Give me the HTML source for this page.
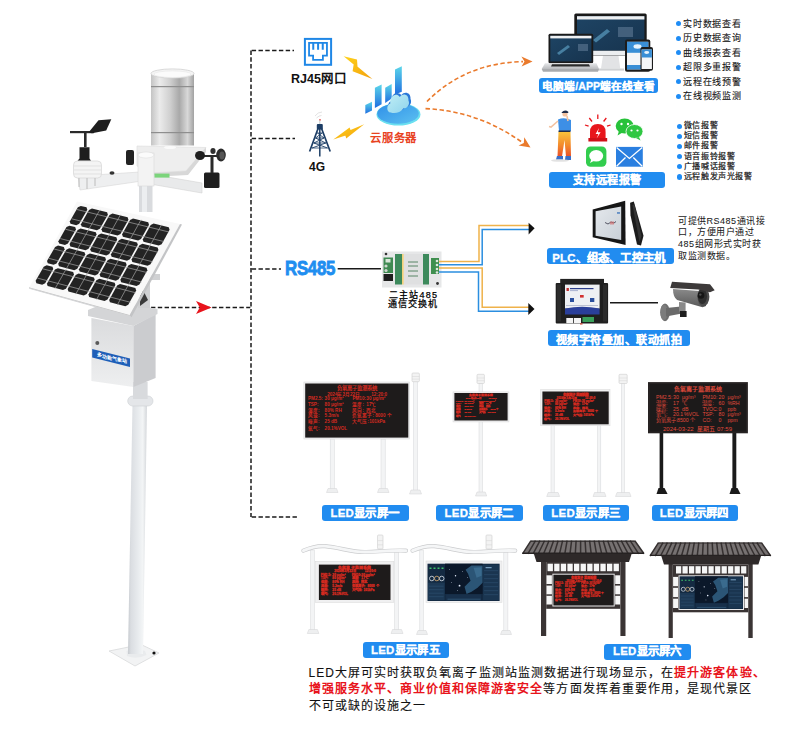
<!DOCTYPE html>
<html lang="zh-CN"><head><meta charset="utf-8">
<style>
html,body{margin:0;padding:0;background:#fff;}
body{width:800px;height:729px;overflow:hidden;position:relative;font-family:"Liberation Sans",sans-serif;}
#g{position:absolute;left:0;top:0;}
.t{position:absolute;white-space:nowrap;}
.lb{position:absolute;box-sizing:border-box;background:#218cf0;color:#fff;-webkit-text-stroke:0.3px #fff;border-radius:3px;font-weight:bold;text-align:center;white-space:nowrap;}
.li{position:absolute;white-space:nowrap;color:#1a1a1a;}
.li i{position:absolute;left:-7.1px;top:50%;margin-top:-2.6px;width:5.2px;height:5.2px;border-radius:50%;background:#1e8cf5;}
</style></head><body>
<svg id="g" width="800" height="729" viewBox="0 0 800 729">
<!-- GRAPHICS -->
<g id="dashes" stroke="#1a1a1a" stroke-width="1.5" fill="none" stroke-dasharray="4.4 2.4">
<path d="M251 50.5V517"/>
<path d="M251.7 50.5H294"/>
<path d="M251.7 138.6H295"/>
<path d="M251.7 269H281"/>
<path d="M151 307.6H250.3"/>
<path d="M251.7 517H298"/>
</g>
<path d="M211.5 307.5L196 301L199.8 307.5L196 314Z" fill="#e8141c"/>

<g id="station">
<defs>
<linearGradient id="gz" x1="0" x2="1" y1="0" y2="0">
<stop offset="0" stop-color="#c4c4c4"/><stop offset="0.2" stop-color="#ebebeb"/><stop offset="0.45" stop-color="#cfcfcf"/><stop offset="0.66" stop-color="#a9a9a9"/><stop offset="0.85" stop-color="#d8d8d8"/><stop offset="1" stop-color="#a2a2a2"/>
</linearGradient>
<linearGradient id="gp" x1="0" x2="1" y1="0" y2="0">
<stop offset="0" stop-color="#c6cacf"/><stop offset="0.15" stop-color="#dadde1"/><stop offset="0.5" stop-color="#e7eaed"/><stop offset="0.78" stop-color="#f3f5f6"/><stop offset="1" stop-color="#d3d6da"/>
</linearGradient>
<linearGradient id="gbf" x1="0" x2="0" y1="0" y2="1">
<stop offset="0" stop-color="#dadbdd"/><stop offset="1" stop-color="#eeeff0"/>
</linearGradient>
</defs>
<!-- pole -->
<path d="M109 651 L141 644.5 L159 653 L135 666 Z" fill="#f2f3f4" stroke="#d8d9db" stroke-width="0.8"/>
<path d="M126.5 651 Q135 647 145 651 L146.5 655 Q136 660 127 656Z" fill="#e9ebed"/>
<path d="M132.5 404 L147 404 L143 654 L128 654 Z" fill="url(#gp)"/>
<circle cx="154" cy="653" r="1.6" fill="#111"/>
<rect x="127.7" y="396" width="25.3" height="10" rx="5" fill="#e4e6e9" stroke="#cdd0d4" stroke-width="0.6"/>
<rect x="133" y="382" width="14.6" height="17" fill="#d8dadd"/>
<!-- box -->
<path d="M91.4 318 L133.4 326 L133.4 387 L91.4 381 Z" fill="url(#gbf)"/>
<path d="M133.4 326 L155.6 314 L155.6 378 L133.4 387 Z" fill="#cbcccf"/>
<path d="M88 310 L112 300 L157.5 309 L157.5 314 L133.4 326 L88 316 Z" fill="#d4d5d7"/>
<path d="M92.2 349 L130 358.5 L130 367 L92.2 357.5 Z" fill="#1f5fb8"/><text transform="matrix(1 0.25 0 1 97 356.3)" font-size="5" font-weight="bold" fill="#fff" font-family="Liberation Sans, sans-serif">多功能气象站</text>
<circle cx="97.3" cy="343" r="2" fill="#5a5a5a"/>
<!-- bracket behind panel -->
<path d="M138 274 L150 274 L150 308 L138 308 Z" fill="#cfd0d2"/>
<path d="M140 284 L148 300 L140 306 Z" fill="#3a3a3a"/>
<path d="M150 274 L160 274 L160 280 L150 280 Z" fill="#d0d1d3"/>
<!-- upper pole -->
<rect x="139" y="180" width="13.5" height="32" fill="#d9dbde"/>
<rect x="142" y="180" width="5" height="32" fill="#eceef0"/>
<!-- rain gauge platform -->
<path d="M137 146 L206 147.5 L186 171 L150 173 L137 166 Z" fill="#eeeeee" stroke="#dcdcdc" stroke-width="0.6"/>
<path d="M150 173 L186 171 L206 147.5 L206 152 L188 175 L150 177 Z" fill="#d8d8d8"/>
<!-- rain gauge -->
<rect x="151" y="73.5" width="43" height="72" fill="url(#gz)"/>
<ellipse cx="172.5" cy="73.5" rx="21.5" ry="4.6" fill="#f4f4f4" stroke="#d0d0d0" stroke-width="0.8"/><ellipse cx="172.5" cy="74.2" rx="18.5" ry="3.3" fill="#fbfbfb" stroke="#e2e2e2" stroke-width="0.5"/>
<rect x="151" y="86" width="43" height="1.2" fill="#8e8e8e"/>
<rect x="151" y="132" width="43" height="1.2" fill="#8e8e8e"/>
<ellipse cx="170" cy="147.5" rx="6" ry="1.6" fill="#fafafa"/>
<!-- arms -->
<path d="M78 176 L140 172 L142 181 L80 190 Z" fill="#eeeff0" stroke="#d6d6d6" stroke-width="0.6"/>
<path d="M150 174 L202 183 L202 193 L150 184 Z" fill="#e9eaeb" stroke="#d3d3d3" stroke-width="0.6"/>
<rect x="138" y="153" width="16" height="33" fill="#f3f3f3" stroke="#dadada" stroke-width="0.6"/>
<ellipse cx="146" cy="155" rx="8" ry="3" fill="#fbfbfb" stroke="#dadada" stroke-width="0.5"/>
<rect x="154.5" y="173.6" width="15" height="4" fill="#7bd47b"/>
<!-- wind vane -->
<path d="M79.5 147.3H89.5V158.5L91 160.7H77.5L79.5 158.5Z" fill="#1e1e1e"/>
<rect x="84" y="131" width="2.6" height="16" fill="#2a2a2a"/>
<rect x="70" y="131" width="24" height="2.2" fill="#2a2a2a"/>
<path d="M88.5 132.6 L98.5 120.2 L111.3 119.3 L106.2 130.6 L92 133.2 Z" fill="#1e1e1e"/>
<!-- radiation shield -->
<rect x="73.5" y="161" width="28" height="17" rx="4" fill="#f4f4f4" stroke="#d5d5d5" stroke-width="0.7"/>
<path d="M74 166H101M74 170H101M74 174H101" stroke="#d9d9d9" stroke-width="0.7"/>
<path d="M79 178V187M87 178V189M95 178V186" stroke="#bcbcbc" stroke-width="1"/>
<!-- middle black sensor -->
<rect x="126" y="150" width="8" height="15" rx="2" fill="#222"/>
<ellipse cx="112" cy="173" rx="2.5" ry="1.8" fill="#333"/>
<!-- anemometer -->
<rect x="204" y="172.5" width="15.5" height="15.5" rx="1.5" fill="#1e1e1e"/>
<rect x="210.5" y="155" width="3" height="18" fill="#2a2a2a"/>
<rect x="200" y="155" width="22" height="2" fill="#2a2a2a"/>
<ellipse cx="200" cy="155.5" rx="5" ry="4.5" fill="#1f1f1f"/>
<ellipse cx="221" cy="155" rx="4.8" ry="6.5" fill="#2b2b2b"/>
<ellipse cx="222" cy="155.5" rx="2.6" ry="4" fill="#555"/>
<ellipse cx="213" cy="151" rx="2.6" ry="3" fill="#2f2f2f"/>
</g>
<g id="panel"><path d="M77.00 201.50 L180.00 224.00 L129.50 315.50 L29.00 287.80 Z" fill="#f8f8f8"/><path d="M29 287.8L129.5 315.5" stroke="#bdbdbd" stroke-width="0.9"/><path d="M180.00 224.00 L182.00 224.60 L131.50 317.30 L129.50 315.50 Z" fill="#c3c4c6"/><path d="M29.00 287.80 L129.50 315.50 L131.50 317.30 L30.00 289.00 Z" fill="#d4d5d7"/><g fill="#232323"><path d="M80.80 205.90 L86.55 207.30 L87.31 209.65 L79.23 223.77 L76.29 225.21 L70.53 223.78 L69.76 221.43 L77.86 207.35 Z" /><path d="M69.43 225.68 L75.20 227.11 L75.96 229.48 L67.88 243.59 L64.93 245.02 L59.16 243.57 L58.39 241.20 L66.49 227.12 Z" /><path d="M58.06 245.47 L63.84 246.93 L64.61 249.30 L56.53 263.41 L53.58 264.84 L47.79 263.35 L47.01 260.98 L55.11 246.90 Z" /><path d="M46.69 265.25 L52.49 266.74 L53.26 269.12 L45.18 283.24 L42.22 284.65 L36.42 283.14 L35.64 280.75 L43.74 266.67 Z" /><path d="M91.92 208.60 L107.11 212.30 L107.87 214.67 L99.83 228.86 L96.89 230.31 L81.66 226.54 L80.90 224.18 L88.98 210.06 Z" /><path d="M80.58 228.45 L95.81 232.22 L96.58 234.60 L88.54 248.79 L85.60 250.23 L70.32 246.38 L69.55 244.01 L77.63 229.89 Z" /><path d="M69.24 248.29 L84.51 252.14 L85.29 254.53 L77.25 268.71 L74.30 270.15 L58.98 266.22 L58.21 263.84 L66.29 249.72 Z" /><path d="M57.90 268.13 L73.21 272.06 L73.99 274.45 L65.95 288.64 L63.00 290.07 L47.64 286.07 L46.86 283.67 L54.94 269.55 Z" /><path d="M112.47 213.61 L127.67 217.31 L128.44 219.68 L120.44 233.95 L117.50 235.41 L102.27 231.64 L101.50 229.27 L109.54 215.07 Z" /><path d="M101.19 233.56 L116.42 237.33 L117.20 239.72 L109.20 253.98 L106.26 255.44 L90.99 251.59 L90.21 249.21 L98.25 235.01 Z" /><path d="M89.91 253.50 L105.18 257.36 L105.96 259.75 L97.96 274.02 L95.02 275.46 L79.70 271.54 L78.92 269.14 L86.96 254.95 Z" /><path d="M78.62 273.45 L93.94 277.38 L94.72 279.79 L86.72 294.05 L83.77 295.49 L68.42 291.48 L67.63 289.08 L75.67 274.89 Z" /><path d="M133.03 218.62 L148.22 222.31 L149.00 224.70 L141.04 239.04 L138.11 240.51 L122.88 236.74 L122.11 234.36 L130.10 220.09 Z" /><path d="M121.80 238.67 L137.04 242.44 L137.82 244.84 L129.86 259.18 L126.92 260.64 L111.65 256.80 L110.87 254.40 L118.87 240.13 Z" /><path d="M110.57 258.72 L125.85 262.58 L126.64 264.98 L118.67 279.32 L115.74 280.77 L100.42 276.85 L99.64 274.45 L107.64 260.18 Z" /><path d="M99.35 278.77 L114.66 282.71 L115.45 285.12 L107.49 299.46 L104.55 300.90 L89.19 296.90 L88.40 294.49 L96.40 280.22 Z" /><path d="M153.59 223.62 L168.78 227.32 L169.57 229.71 L161.64 244.13 L158.72 245.61 L143.49 241.84 L142.71 239.45 L150.67 225.10 Z" /><path d="M142.42 243.78 L157.65 247.56 L158.44 249.96 L150.52 264.37 L147.59 265.85 L132.32 262.00 L131.53 259.60 L139.49 245.25 Z" /><path d="M131.24 263.94 L146.52 267.79 L147.31 270.20 L139.39 284.62 L136.46 286.08 L121.14 282.16 L120.35 279.75 L128.31 265.40 Z" /><path d="M120.07 284.09 L135.39 288.03 L136.18 290.45 L128.26 304.87 L125.32 306.32 L109.97 302.32 L109.17 299.90 L117.13 285.55 Z" /></g><path d="M99.87 209.82L54.96 288.70 M120.43 214.82L75.74 294.12 M140.99 219.82L96.51 299.55 M161.54 224.82L117.29 304.97 M76.93 209.51L168.94 231.99 M71.59 218.81L163.71 241.51 M65.56 229.29L157.82 252.24 M60.21 238.58L152.59 261.76 M54.19 249.06L146.69 272.49 M48.84 258.36L141.46 282.01 M42.81 268.84L135.56 292.74 M37.47 278.14L130.33 302.26" stroke="#a4a4a4" stroke-width="0.7" fill="none"/></g>

<g id="net">
<defs>
<linearGradient id="gbolt" x1="0" x2="1" y1="0" y2="1"><stop offset="0" stop-color="#ffd21a"/><stop offset="1" stop-color="#f3a10e"/></linearGradient>
<linearGradient id="gbar" x1="0" x2="0" y1="0" y2="1"><stop offset="0" stop-color="#5cd6ea"/><stop offset="1" stop-color="#1f6ee0"/></linearGradient>
<linearGradient id="gdisc" x1="0" x2="1" y1="0" y2="1"><stop offset="0" stop-color="#2f8fe8"/><stop offset="1" stop-color="#5cc0f0"/></linearGradient>
<linearGradient id="gcloud" x1="0" x2="1" y1="0" y2="1"><stop offset="0" stop-color="#bfeef5"/><stop offset="1" stop-color="#8fd3ec"/></linearGradient>
</defs>
<!-- RJ45 -->
<rect x="304.9" y="38.9" width="26.2" height="25.9" fill="none" stroke="#1f87e6" stroke-width="2"/>
<path d="M309.05 42.9H326.95V55.6H322.9V59.9H313.1V55.6H309.05Z" fill="none" stroke="#1f87e6" stroke-width="1.8"/>
<path d="M313.25 42V49.7M318.1 42V49.7M322.75 42V49.7" stroke="#1f87e6" stroke-width="2"/>
<!-- bolts -->
<path d="M343.6 56.2L357 59.6L357.6 67.8ZM372.4 79L352.6 71.2L353.8 63.4Z" fill="url(#gbolt)"/>
<path d="M333.3 139.6L349.6 127.6L351.8 133.6ZM364.2 124.3L346.2 138.6L344.6 132.4Z" fill="url(#gbolt)"/>
<!-- tower -->
<g stroke="#1d3e66" fill="none">
<path d="M318.6 127L309.6 151.5M321 127L330.2 151.5" stroke-width="1.7"/>
<path d="M319.8 127V156.5" stroke-width="1.5"/>
<path d="M317 133L322.6 133M315.5 138L324 138M313.8 143L325.8 143M312 148L327.6 148" stroke-width="0.8"/>
<path d="M317.5 133L324 138L313.8 143L327.6 148M322 133L315.5 138L325.8 143L312 148" stroke-width="0.9"/>
</g>
<rect x="316.8" y="124" width="6" height="5.6" rx="1" fill="#1d3e66"/>
<path d="M315 116Q318 112 322 112M316.5 118Q319 115.5 321.5 115.5" stroke="#cfcfcf" stroke-width="0.6" fill="none"/>
<circle cx="320" cy="119.8" r="0.9" fill="#e05050"/>
<path d="M319.8 120.5V124" stroke="#9aa" stroke-width="0.6"/>
<!-- cloud server -->
<ellipse cx="398.5" cy="114.4" rx="22" ry="11.2" fill="#6ae0f0"/>
<ellipse cx="398" cy="113.6" rx="20.8" ry="10.2" fill="url(#gdisc)"/>
<path d="M365.3 105L372 101.8V110.5L365.3 113.8Z" fill="url(#gbar)"/>
<path d="M374.9 87.8L381.6 84.5V104.2L374.9 108Z" fill="url(#gbar)"/>
<path d="M385.2 87.8L391.7 84V98.4L385.2 103Z" fill="url(#gbar)"/>
<path d="M395 69.6L401.8 66.2V91.7L395 94.6Z" fill="url(#gbar)"/>
<g transform="translate(-3.6 -22.5) scale(1.01 1.2)"><path d="M392 111C387 111 386.5 104 391 103C390.5 97 397 94 401 98C404 94.5 410.5 96 410 101C412 105 408.5 108 405 108C402 112 396 112 392 111Z" fill="#2a78d8"/><path d="M390.5 112.5C386 112.5 386 106 390 105C389 99 395.5 95.5 399.5 99.5C402.5 96 408.5 97.5 408 102.5C410 106 406 109.5 403 109C400 113 394 113.5 390.5 112.5Z" fill="url(#gcloud)"/></g>
<!-- orange arcs -->
<g stroke="#ea7a2c" stroke-width="1.6" fill="none" stroke-dasharray="4.4 2.6">
<path d="M427 101.5Q465 63 523 61.6"/>
<path d="M425.5 108.6Q478 111 522 142.2"/>
</g>
<path d="M532.5 61.4L521.4 56.4L524.5 61.5L521.6 66.6Z" fill="#ea7a2c"/>
<path d="M530.5 147.6L524.25 137.2L523.8 143L518.55 145.4Z" fill="#ea7a2c"/>
</g>
<g id="devices">
<defs>
<linearGradient id="gscr" x1="0" x2="1" y1="0" y2="1"><stop offset="0" stop-color="#1e4464"/><stop offset="1" stop-color="#17344f"/></linearGradient>
<linearGradient id="gsil" x1="0" x2="0" y1="0" y2="1"><stop offset="0" stop-color="#e6e7e9"/><stop offset="1" stop-color="#b9bbbe"/></linearGradient>
</defs>
<!-- imac -->
<path d="M603 55.6H618.5L620.2 68.5H601Z" fill="#e2e3e5"/>
<path d="M597 68.5H624V70.6H597Z" fill="#cfd1d3"/>
<rect x="574.3" y="13.4" width="72.4" height="42.2" rx="1.5" fill="#1a1a1a"/>
<rect x="576.6" y="50.5" width="67.8" height="4.8" fill="#eceef0"/>
<rect x="577" y="16.2" width="67.4" height="34.3" fill="url(#gscr)"/>
<rect x="577" y="16.2" width="67.4" height="3.3" fill="#eef0f2"/>
<path d="M593 40L607 29L610 31.5L596 42.5Z" fill="#5a9bbf" opacity="0.7"/>
<rect x="618" y="27" width="15" height="10" fill="#4d6a86" opacity="0.8"/>
<!-- laptop -->
<rect x="548.5" y="33.7" width="44.7" height="29.5" rx="1.5" fill="#1a1a1a"/>
<rect x="550.3" y="35.8" width="41.1" height="25.6" fill="url(#gscr)"/>
<rect x="550.3" y="35.8" width="41.1" height="2.6" fill="#eef0f2"/>
<path d="M557 53L568 45L570 47L559 55Z" fill="#5a9bbf" opacity="0.7"/>
<rect x="578" y="44" width="10" height="7" fill="#4d6a86" opacity="0.8"/>
<path d="M545 63.2H596.5L599 69H541.7Z" fill="url(#gsil)"/>
<path d="M541.7 69H599L598 71.7H543Z" fill="#a9abae"/>
<path d="M552 64.2H589L590 66.5H551Z" fill="#2a2a2a"/>
<!-- tablet -->
<rect x="625" y="39.6" width="25.3" height="32.1" rx="2" fill="#1c1c1c"/>
<rect x="627" y="41.8" width="21.3" height="27.6" fill="#f4f6f8"/>
<rect x="627" y="41.8" width="21.3" height="11" fill="#3a8fd6"/>
<ellipse cx="637.5" cy="46.5" rx="4" ry="2.2" fill="#e8f4fc"/>
<rect x="627" y="65" width="21.3" height="4.4" fill="#3a8fd6"/>
<!-- phone -->
<rect x="640.5" y="47" width="12.5" height="23.8" rx="2" fill="#1c1c1c"/>
<rect x="641.6" y="49.5" width="10.3" height="19.5" fill="#f4f6f8"/>
<rect x="641.6" y="49.5" width="10.3" height="8" fill="#3a8fd6"/>
<ellipse cx="646.7" cy="52.5" rx="2.5" ry="1.4" fill="#e8f4fc"/>
<!-- person -->
<circle cx="565" cy="114" r="2.6" fill="#f3c2a0"/>
<path d="M561.5 112.5Q565 109 568.5 112L568 113H562Z" fill="#1f2d4a"/>
<path d="M558 119.5Q564 117 571 120L571 131L559 131Z" fill="#3d8fe6"/>
<path d="M558 121L551 127L549 126.5" stroke="#f3c2a0" stroke-width="1.6" fill="none"/>
<path d="M568 121L567 116" stroke="#f3c2a0" stroke-width="1.6"/>
<rect x="558.5" y="130.5" width="12" height="1.6" fill="#1f2d4a"/>
<defs><linearGradient id="gpants" x1="0" x2="0" y1="0" y2="1"><stop offset="0" stop-color="#f7c23c"/><stop offset="0.55" stop-color="#f3892c"/><stop offset="1" stop-color="#e9502a"/></linearGradient></defs>
<path d="M558.5 132H570.5L571 156.5H566L564.5 140L562 156.5H557.5Z" fill="url(#gpants)"/>
<path d="M557 156H563V159.5H556Z" fill="#3a6fc8"/>
<path d="M565.5 156H571V160H565Z" fill="#3a6fc8"/>
<ellipse cx="560" cy="160.5" rx="9" ry="1.3" fill="#d6d6d6" opacity="0.7"/>
<!-- alarm -->
<path d="M590 141V132Q590 124 597.8 124Q605.6 124 605.6 132V141Z" fill="#e8161c"/>
<rect x="588.4" y="138" width="18.8" height="3.5" fill="#d01018"/>
<path d="M599 128L595.6 134H598.4L596.6 138.6L600.6 132.2H597.8Z" fill="#fff"/>
<path d="M597.8 114.5V119M589.3 118L592 121.5M606.3 118L603.6 121.5M585 125L588.6 126.2M610.6 125L607 126.2" stroke="#e8161c" stroke-width="1.3"/>
<!-- wechat -->
<ellipse cx="624.7" cy="126" rx="9" ry="7.5" fill="#27c23a"/>
<path d="M619 131L617.5 135.5L622.5 132.5Z" fill="#27c23a"/>
<ellipse cx="634.5" cy="131.5" rx="8.5" ry="7" fill="#2fc742" stroke="#fff" stroke-width="0.8"/>
<path d="M639 137L640.5 140.5L636 138Z" fill="#2fc742"/>
<circle cx="621.5" cy="124" r="1.2" fill="#fff"/><circle cx="628" cy="124" r="1.2" fill="#fff"/>
<circle cx="631.5" cy="130.5" r="1.1" fill="#fff"/><circle cx="637.5" cy="130.5" r="1.1" fill="#fff"/>
<!-- message -->
<rect x="586" y="146.4" width="20.4" height="20.3" rx="4.5" fill="#32cd4e"/>
<ellipse cx="596.2" cy="155.8" rx="7" ry="5.8" fill="#fff"/>
<path d="M591.5 159L590 163L594.5 160.5Z" fill="#fff"/>
<!-- mail -->
<rect x="616" y="146.9" width="26.8" height="19.8" fill="#2a7fe0"/>
<path d="M616.6 147.6L629.4 158.5L642.2 147.6M616.6 166.2L625.5 157.5M642.2 166.2L633.3 157.5" stroke="#fff" stroke-width="1.3" fill="none"/>
</g>

<g id="rs485">
<path d="M337.7 268.7H381" stroke="#1a1a1a" stroke-width="1.4"/>
<!-- converter -->
<rect x="382" y="251.5" width="59.5" height="36" fill="#e6e7e8"/>
<rect x="383.5" y="257.5" width="9.5" height="15.5" fill="#3f8a52"/>
<rect x="385.5" y="259" width="5" height="3.5" fill="#d8e6d8"/>
<circle cx="386" cy="266" r="1.6" fill="#cfd8cf"/><circle cx="386" cy="270.5" r="1.6" fill="#cfd8cf"/>
<rect x="383.5" y="274" width="9.5" height="7" fill="#1e1e1e"/>
<circle cx="386" cy="254" r="1.3" fill="#333"/>
<circle cx="437.5" cy="283.5" r="1.4" fill="#333"/>
<rect x="395" y="254" width="7" height="30.5" fill="#3d8a5c"/>
<rect x="402" y="254" width="1.8" height="30.5" fill="#f3d27a"/>
<rect x="403.8" y="254" width="19.2" height="30.5" fill="#dfe0e1"/>
<rect x="423" y="254" width="6" height="30.5" fill="#3d8a5c"/>
<path d="M408 262h10M408 266h10M408 271h10M408 276h10" stroke="#4a7a5a" stroke-width="0.9"/>
<rect x="431" y="258" width="8" height="16" fill="#3f8f4f"/>
<circle cx="437" cy="261" r="1.3" fill="#e0e8e0"/><circle cx="437" cy="265" r="1.3" fill="#e0e8e0"/><circle cx="437" cy="269" r="1.3" fill="#e0e8e0"/><circle cx="437" cy="272.5" r="1.3" fill="#e0e8e0"/>
<!-- wires -->
<g fill="none" stroke-width="1.5">
<path d="M439 261.4H479V225.4H529" stroke="#efb24a"/>
<path d="M439 264.7H482.2V229.4H529" stroke="#2b8ee0"/>
<path d="M439 268H482.2V307.2H529" stroke="#efb24a"/>
<path d="M439 271.9H478.5V311.2H529" stroke="#2b8ee0"/>
</g>
<path d="M528.6 222.8L534.6 228.2L528.6 234.4Z" fill="#111"/>
<path d="M528.3 303L534.5 309L528.3 315Z" fill="#111"/>
<!-- PLC panel -->
<defs><linearGradient id="gplc" x1="0" x2="1" y1="0" y2="1"><stop offset="0" stop-color="#e4e8ec"/><stop offset="1" stop-color="#c9d0d7"/></linearGradient></defs>
<path d="M592.7 209.6L625.2 200.7L625.6 245L592.7 237.3Z" fill="#161616"/>
<path d="M595.6 211.3L621.2 206.4L621.2 240.1L595.6 235.7Z" fill="url(#gplc)"/>
<path d="M605 222.5l3 1.5l3-2l3 1l2-1.5" stroke="#334" stroke-width="0.8" fill="none"/>
<path d="M610 221.5h4v3h-4z" fill="#d07070" opacity="0.7"/>
<path d="M617 212.2h3v1.5h-3z" fill="#4a7fc0"/>
<path d="M630.1 202.7L633.8 201.5L643.5 235.7L641 245.4L637 244.6L630.5 215.3Z" fill="#1c1c1c"/>
<path d="M632.5 205L634.5 204.5L641.5 236L639.5 242Z" fill="#343434"/>
<!-- video box -->
<rect x="560.2" y="278.9" width="43.8" height="5" fill="#222"/>
<rect x="555.7" y="283" width="52.4" height="40.6" rx="1" fill="#1f1f1f"/>
<rect x="557" y="284.5" width="4" height="37" fill="#2c2c2c"/>
<rect x="603" y="284.5" width="4" height="37" fill="#2c2c2c"/>
<rect x="565" y="284.6" width="34.6" height="24" fill="#eef0f4"/>
<path d="M565 308.5Q582 305 599.6 308.5V314.6H565Z" fill="#2a3f9a"/>
<path d="M566.5 288h2.4v3h-2.4z" fill="#c03030"/>
<path d="M570 288.6h23.5" stroke="#2c3e8c" stroke-width="1.2"/>
<path d="M570 290.6h8" stroke="#7a88b8" stroke-width="0.6"/>
<rect x="580" y="295" width="3.7" height="2.6" fill="#d23030"/>
<rect x="570" y="298" width="4" height="4" fill="#2a4f9e"/>
<rect x="590" y="298" width="4.3" height="4" fill="#2a4f9e"/>
<path d="M566 305.5h32" stroke="#8a92b0" stroke-width="0.5"/>
<rect x="566.3" y="318" width="6.9" height="5.2" fill="#f4f4f4"/>
<rect x="574" y="318" width="7" height="5.2" fill="#f4f4f4"/>
<rect x="582.5" y="317" width="11.5" height="5" fill="#3aa05a"/>
<rect x="580" y="323.3" width="2.5" height="1.2" fill="#d03a2a"/>
<path d="M610 302.8H658" stroke="#1a1a1a" stroke-width="1.4"/>
<!-- camera -->
<defs><linearGradient id="gcam" x1="0" x2="0" y1="0" y2="1"><stop offset="0" stop-color="#8a8a8a"/><stop offset="1" stop-color="#5a5a5a"/></linearGradient></defs>
<ellipse cx="665" cy="312.3" rx="4.7" ry="8.9" fill="#6e6e6e"/>
<ellipse cx="664" cy="312.3" rx="3.6" ry="7.8" fill="#7c7c7c"/>
<path d="M666 308L681 306.5L682 313.5L666 316.5Z" fill="#6a6a6a"/>
<path d="M679 302L685.6 302.5L685.6 311.4L679 311.4Z" fill="#8a8a8a"/>
<rect x="680" y="311" width="6.6" height="6" fill="#1e1e1e"/>
<path d="M673 289L706 291.5L706 306L702.5 307.2L677.2 300.1Q673 297 673 289Z" fill="url(#gcam)"/>
<ellipse cx="703.4" cy="296.8" rx="6" ry="9.4" fill="#4a4a4a"/>
<ellipse cx="702.4" cy="296.3" rx="4.6" ry="7.6" fill="#2e2e2e"/>
<circle cx="701" cy="295.4" r="3.3" fill="#151515"/>
<circle cx="700.3" cy="294.6" r="1.2" fill="#4a4a4a"/>
<path d="M672 281.8L710 284.2L714.7 290.3L710 292.2L698 289.5L670.2 288Z" fill="#3d3a3a"/>
</g>
<g id="leds">
<rect x="330.2" y="439.0" width="4.1" height="52.0" fill="#f3f4f5" stroke="#d6d7d9" stroke-width="0.5"/><path d="M328.0 488.5H336.5L338.0 492.5H326.5Z" fill="#eeeff0" stroke="#d2d3d5" stroke-width="0.5"/>
<rect x="381.0" y="439.0" width="4.2" height="52.0" fill="#f3f4f5" stroke="#d6d7d9" stroke-width="0.5"/><path d="M379.0 488.5H387.5L389.0 492.5H377.5Z" fill="#eeeff0" stroke="#d2d3d5" stroke-width="0.5"/>
<rect x="413.5" y="381.0" width="4.0" height="111.5" fill="#f3f4f5" stroke="#d6d7d9" stroke-width="0.5"/><path d="M411.0 490.0H420.0L421.5 494.0H409.5Z" fill="#eeeff0" stroke="#d2d3d5" stroke-width="0.5"/>
<rect x="412.0" y="373.0" width="7.4" height="8.7" rx="1" fill="#f3f3f3" stroke="#cfcfcf" stroke-width="0.6"/><path d="M412.0 376.5H419.4M412.0 379.1H419.4" stroke="#d5d5d5" stroke-width="0.5"/>
<rect x="303.9" y="382.0" width="105.5" height="57.0" fill="#f0f0f1" stroke="#dcdcdd" stroke-width="0.6"/><rect x="305.2" y="383.5" width="103.1" height="54.1" fill="#1e1b1b"/><g transform="translate(305.20 383.50) scale(1.0010 1.0019)"><g fill="#d42a20" stroke="#d42a20" stroke-width="0" font-size="4.6" font-weight="bold" font-family="Liberation Sans, sans-serif">
<text x="51.5" y="6.8" text-anchor="middle" font-size="5.4">负氧离子监测系统</text>
<text x="22" y="12">2024年3月22日</text><text x="66" y="12">12:20:0</text>
<text x="2.8" y="16.7">PM2.5:</text><text x="19.4" y="16.7">30 μg/m³</text><text x="47.2" y="16.7">PM10:</text><text x="61.1" y="16.7">30 μg/m³</text>
<text x="2.8" y="22.2">TSP:</text><text x="19.4" y="22.2">80 μg/m³</text><text x="47.2" y="22.2">温度:</text><text x="61.1" y="22.2">17℃</text>
<text x="2.8" y="28.2">湿度:</text><text x="19.4" y="28.2">80% RH</text><text x="47.2" y="28.2">风向:</text><text x="61.1" y="28.2">西北</text>
<text x="2.8" y="33.7">风速:</text><text x="19.4" y="33.7">5.3m/s</text><text x="47.2" y="33.7">负氧离子:</text><text x="70" y="33.7">8000 个</text>
<text x="2.8" y="39.8">噪声:</text><text x="19.4" y="39.8">25 dB</text><text x="47.2" y="39.8">大气压:</text><text x="64" y="39.8">101kPa</text>
<text x="2.8" y="46.3">氧气:</text><text x="19.4" y="46.3">20.1%VOL</text>
</g></g>
<rect x="479.0" y="383.5" width="3.6" height="111.0" fill="#f3f4f5" stroke="#d6d7d9" stroke-width="0.5"/><path d="M477.0 492.0H485.2L486.7 496.0H475.5Z" fill="#eeeff0" stroke="#d2d3d5" stroke-width="0.5"/>
<rect x="477.0" y="374.3" width="7.4" height="9.2" rx="1" fill="#f3f3f3" stroke="#cfcfcf" stroke-width="0.6"/><path d="M477.0 378.0H484.4M477.0 380.7H484.4" stroke="#d5d5d5" stroke-width="0.5"/>
<rect x="453.0" y="391.9" width="55.9" height="30.0" fill="#f0f0f1" stroke="#dcdcdd" stroke-width="0.6"/><rect x="454.4" y="393.0" width="53.2" height="27.5" fill="#1e1b1b"/><g transform="translate(454.40 393.00) scale(0.5165 0.5093)"><g fill="#d42a20" stroke="#d42a20" stroke-width="0.4" font-size="4.6" font-weight="bold" font-family="Liberation Sans, sans-serif">
<text x="51.5" y="6.8" text-anchor="middle" font-size="5.4">负氧离子监测系统</text>
<text x="22" y="12">2024年3月22日</text><text x="66" y="12">12:20:0</text>
<text x="2.8" y="16.7">PM2.5:</text><text x="19.4" y="16.7">30 μg/m³</text><text x="47.2" y="16.7">PM10:</text><text x="61.1" y="16.7">30 μg/m³</text>
<text x="2.8" y="22.2">TSP:</text><text x="19.4" y="22.2">80 μg/m³</text><text x="47.2" y="22.2">温度:</text><text x="61.1" y="22.2">17℃</text>
<text x="2.8" y="28.2">湿度:</text><text x="19.4" y="28.2">80% RH</text><text x="47.2" y="28.2">风向:</text><text x="61.1" y="28.2">西北</text>
<text x="2.8" y="33.7">风速:</text><text x="19.4" y="33.7">5.3m/s</text><text x="47.2" y="33.7">负氧离子:</text><text x="70" y="33.7">8000 个</text>
<text x="2.8" y="39.8">噪声:</text><text x="19.4" y="39.8">25 dB</text><text x="47.2" y="39.8">大气压:</text><text x="64" y="39.8">101kPa</text>
<text x="2.8" y="46.3">氧气:</text><text x="19.4" y="46.3">20.1%VOL</text>
</g></g>
<rect x="551.0" y="425.7" width="3.2" height="69.3" fill="#f3f4f5" stroke="#d6d7d9" stroke-width="0.5"/><path d="M548.2 492.5H558.1L559.6 496.5H546.7Z" fill="#eeeff0" stroke="#d2d3d5" stroke-width="0.5"/>
<rect x="597.6" y="425.7" width="3.2" height="69.3" fill="#f3f4f5" stroke="#d6d7d9" stroke-width="0.5"/><path d="M594.5 492.5H604.5L606.0 496.5H593.0Z" fill="#eeeff0" stroke="#d2d3d5" stroke-width="0.5"/>
<rect x="621.3" y="383.5" width="3.1" height="111.5" fill="#f3f4f5" stroke="#d6d7d9" stroke-width="0.5"/><path d="M617.0 492.5H629.5L631.0 496.5H615.5Z" fill="#eeeff0" stroke="#d2d3d5" stroke-width="0.5"/>
<rect x="619.0" y="374.3" width="8.2" height="9.2" rx="1" fill="#f3f3f3" stroke="#cfcfcf" stroke-width="0.6"/><path d="M619.0 378.0H627.2M619.0 380.7H627.2" stroke="#d5d5d5" stroke-width="0.5"/>
<rect x="540.7" y="389.6" width="69.3" height="36.1" fill="#f0f0f1" stroke="#dcdcdd" stroke-width="0.6"/><rect x="542.4" y="391.5" width="66.3" height="32.8" fill="#1e1b1b"/><g transform="translate(542.40 391.50) scale(0.6437 0.6074)"><g fill="#d42a20" stroke="#d42a20" stroke-width="0.4" font-size="4.6" font-weight="bold" font-family="Liberation Sans, sans-serif">
<text x="51.5" y="6.8" text-anchor="middle" font-size="5.4">负氧离子监测系统</text>
<text x="22" y="12">2024年3月22日</text><text x="66" y="12">12:20:0</text>
<text x="2.8" y="16.7">PM2.5:</text><text x="19.4" y="16.7">30 μg/m³</text><text x="47.2" y="16.7">PM10:</text><text x="61.1" y="16.7">30 μg/m³</text>
<text x="2.8" y="22.2">TSP:</text><text x="19.4" y="22.2">80 μg/m³</text><text x="47.2" y="22.2">温度:</text><text x="61.1" y="22.2">17℃</text>
<text x="2.8" y="28.2">湿度:</text><text x="19.4" y="28.2">80% RH</text><text x="47.2" y="28.2">风向:</text><text x="61.1" y="28.2">西北</text>
<text x="2.8" y="33.7">风速:</text><text x="19.4" y="33.7">5.3m/s</text><text x="47.2" y="33.7">负氧离子:</text><text x="70" y="33.7">8000 个</text>
<text x="2.8" y="39.8">噪声:</text><text x="19.4" y="39.8">25 dB</text><text x="47.2" y="39.8">大气压:</text><text x="64" y="39.8">101kPa</text>
<text x="2.8" y="46.3">氧气:</text><text x="19.4" y="46.3">20.1%VOL</text>
</g></g>
<rect x="659.6" y="433" width="3.6" height="58" fill="#1a1a1a"/><rect x="732.4" y="433" width="3.9" height="58" fill="#1a1a1a"/>
<path d="M658.5 488H664.5L667.6 494H656.5Z" fill="#1a1a1a"/><path d="M731.5 488H737.5L740.5 494H729.5Z" fill="#1a1a1a"/>
<rect x="648" y="382.1" width="99.9" height="51.2" fill="#262222"/>
<rect x="650" y="384" width="96" height="47.4" fill="#1c1a1a"/>
<g fill="#e04a3c" font-family="Liberation Sans, sans-serif" font-size="5.2">
<text x="698.4" y="391.4" text-anchor="middle" font-size="6" font-weight="bold">负氧离子监测系统</text>
<text x="656" y="399.4">PM2.5:</text><text x="673" y="399.4">30</text><text x="682" y="399.4">μg/m³</text><text x="702.4" y="399.4">PM10:</text><text x="718.5" y="399.4">20</text><text x="727.4" y="399.4">μg/m³</text>
<text x="656" y="404.8">温度:</text><text x="673" y="404.8">17</text><text x="682" y="404.8">℃</text><text x="702.4" y="404.8">湿度:</text><text x="718.5" y="404.8">60</text><text x="727.4" y="404.8">%RH</text>
<text x="656" y="410.6">噪声:</text><text x="673" y="410.6">25</text><text x="682" y="410.6">dB</text><text x="702.4" y="410.6">TVOC:</text><text x="718.5" y="410.6">0</text><text x="727.4" y="410.6">ppb</text>
<text x="656" y="416.4">氧气:</text><text x="673" y="416.4">20.1</text><text x="684" y="416.4">%VOL</text><text x="702.4" y="416.4">TSP:</text><text x="718.5" y="416.4">80</text><text x="727.4" y="416.4">μg/m³</text>
<text x="656" y="422.4">负氧离子:</text><text x="677" y="422.4">8500</text><text x="690" y="422.4">个</text><text x="702.4" y="422.4">CO:</text><text x="718.5" y="422.4">0</text><text x="727.4" y="422.4">ppm</text>
<text x="663" y="430.6" font-size="6">2024-03-22</text><text x="697" y="430.6" font-size="6">星期五</text><text x="717" y="430.6" font-size="6">07:59</text>
</g>
<rect x="310.6" y="550.0" width="3.8" height="82.0" fill="#f3f4f5" stroke="#d6d7d9" stroke-width="0.5"/><path d="M308.8 629.5H317.4L318.9 633.5H307.3Z" fill="#eeeff0" stroke="#d2d3d5" stroke-width="0.5"/>
<rect x="394.6" y="552.0" width="4.1" height="80.0" fill="#f3f4f5" stroke="#d6d7d9" stroke-width="0.5"/><path d="M392.5 629.5H401.5L403.0 633.5H391.0Z" fill="#eeeff0" stroke="#d2d3d5" stroke-width="0.5"/>
<rect x="377.5" y="535.0" width="5.5" height="14.0" rx="1" fill="#f3f3f3" stroke="#cfcfcf" stroke-width="0.6"/><path d="M377.5 540.6H383.0M377.5 544.8H383.0" stroke="#d5d5d5" stroke-width="0.5"/>
<path d="M303.4 550.6 C312.0 547 318.0 545.5 325.0 546.2 C340.0 547.5 352.0 552.5 366.0 552 C380.0 551.5 392.0 550 406.0 550.6" stroke="#cbccce" stroke-width="4.2" fill="none" stroke-linecap="round"/><path d="M303.4 550.6 C312.0 547 318.0 545.5 325.0 546.2 C340.0 547.5 352.0 552.5 366.0 552 C380.0 551.5 392.0 550 406.0 550.6" stroke="#f5f6f7" stroke-width="2.8" fill="none" stroke-linecap="round"/>
<rect x="315.6" y="561.3" width="78.2" height="41.1" fill="#f0f0f1" stroke="#dcdcdd" stroke-width="0.6"/><rect x="318.9" y="564.6" width="71.6" height="35.4" fill="#1e1b1b"/><g transform="translate(318.90 564.60) scale(0.6951 0.6556)"><g fill="#d42a20" stroke="#d42a20" stroke-width="0.4" font-size="4.6" font-weight="bold" font-family="Liberation Sans, sans-serif">
<text x="51.5" y="6.8" text-anchor="middle" font-size="5.4">负氧离子监测系统</text>
<text x="22" y="12">2024年3月22日</text><text x="66" y="12">12:20:0</text>
<text x="2.8" y="16.7">PM2.5:</text><text x="19.4" y="16.7">30 μg/m³</text><text x="47.2" y="16.7">PM10:</text><text x="61.1" y="16.7">30 μg/m³</text>
<text x="2.8" y="22.2">TSP:</text><text x="19.4" y="22.2">80 μg/m³</text><text x="47.2" y="22.2">温度:</text><text x="61.1" y="22.2">17℃</text>
<text x="2.8" y="28.2">湿度:</text><text x="19.4" y="28.2">80% RH</text><text x="47.2" y="28.2">风向:</text><text x="61.1" y="28.2">西北</text>
<text x="2.8" y="33.7">风速:</text><text x="19.4" y="33.7">5.3m/s</text><text x="47.2" y="33.7">负氧离子:</text><text x="70" y="33.7">8000 个</text>
<text x="2.8" y="39.8">噪声:</text><text x="19.4" y="39.8">25 dB</text><text x="47.2" y="39.8">大气压:</text><text x="64" y="39.8">101kPa</text>
<text x="2.8" y="46.3">氧气:</text><text x="19.4" y="46.3">20.1%VOL</text>
</g></g>
<rect x="419.8" y="550.0" width="3.6" height="83.0" fill="#f3f4f5" stroke="#d6d7d9" stroke-width="0.5"/><path d="M418.0 630.5H426.0L427.5 634.5H416.5Z" fill="#eeeff0" stroke="#d2d3d5" stroke-width="0.5"/>
<rect x="503.8" y="552.0" width="4.1" height="81.0" fill="#f3f4f5" stroke="#d6d7d9" stroke-width="0.5"/><path d="M502.0 630.5H510.0L511.5 634.5H500.5Z" fill="#eeeff0" stroke="#d2d3d5" stroke-width="0.5"/>
<rect x="486.0" y="535.0" width="6.0" height="14.0" rx="1" fill="#f3f3f3" stroke="#cfcfcf" stroke-width="0.6"/><path d="M486.0 540.6H492.0M486.0 544.8H492.0" stroke="#d5d5d5" stroke-width="0.5"/>
<path d="M412.6 550.6 C421.2 547 427.2 545.5 434.2 546.2 C449.2 547.5 461.2 552.5 475.2 552 C489.2 551.5 501.2 550 515.2 550.6" stroke="#cbccce" stroke-width="4.2" fill="none" stroke-linecap="round"/><path d="M412.6 550.6 C421.2 547 427.2 545.5 434.2 546.2 C449.2 547.5 461.2 552.5 475.2 552 C489.2 551.5 501.2 550 515.2 550.6" stroke="#f5f6f7" stroke-width="2.8" fill="none" stroke-linecap="round"/>
<rect x="426" y="561" width="76" height="41.4" fill="#f0f0f1" stroke="#dcdcdd" stroke-width="0.6"/>
<rect x="427.5" y="563.7" width="72.1" height="37.3" fill="#142a42"/><g transform="translate(427.50 563.70) scale(1.0014 1.0000)"><rect x="17.5" y="0" width="37.5" height="30.3" fill="#0b182a"/>
<path d="M44 1.7L55 1.7L55 19L50 24L44 28L39 30.3L37 23L43 17L40.5 10L38 6Z" fill="#2b5576"/>
<path d="M46 4L54 3.5L54 12L49 14Z" fill="#3a6b8e"/>
<g fill="#e8f0ff"><circle cx="28" cy="12" r="0.7"/><circle cx="32" cy="22" r="0.9"/><circle cx="24" cy="19" r="0.4"/><circle cx="35" cy="8" r="0.4"/><circle cx="22" cy="6" r="0.4"/><circle cx="30" cy="27" r="0.4"/><circle cx="40" cy="14" r="0.4"/></g>
<rect x="0.5" y="19" width="16.5" height="17.5" fill="#1c3854"/>
<path d="M1.5 22.5h14.5M1.5 26h14.5M1.5 29.5h14.5M1.5 33h14.5" stroke="#2f5272" stroke-width="0.6"/>
<circle cx="4.3" cy="14.8" r="2.3" fill="none" stroke="#dfe6ee" stroke-width="0.8"/><circle cx="9.3" cy="14.8" r="2.3" fill="none" stroke="#e0b070" stroke-width="0.8"/><circle cx="14.2" cy="14.8" r="2.3" fill="none" stroke="#dfe6ee" stroke-width="0.8"/>
<rect x="55.5" y="1" width="16" height="35.5" fill="#1a3550"/>
<path d="M56.5 7h14M56.5 11h14M56.5 15h14M56.5 19h14M56.5 23h14M56.5 27h14M56.5 31h14" stroke="#2f5272" stroke-width="0.6"/>
<path d="M58 4h6" stroke="#8fb8d8" stroke-width="1"/>
<rect x="18.5" y="30.8" width="35" height="6" fill="#18304b"/>
<path d="M20 35.5h33" stroke="#3d6a8c" stroke-width="0.6"/>
<path d="M2 4.5h2M6 4.5h2M10 4.5h2M14 4.5h2" stroke="#3ec06a" stroke-width="1.4"/>
</g>
<rect x="541.0" y="553.8" width="5.2" height="82.2" fill="#3a3434"/><rect x="620.4" y="553.8" width="5.1" height="82.2" fill="#3a3434"/><rect x="546.2" y="562.0" width="74.2" height="46.8" fill="#3a3434"/><path d="M533.5 552.8H632.0L629.0 562.0H536.5Z" fill="#2e2929"/><rect x="547.6" y="563.7" width="5.3" height="7.5" fill="#f6f6f6"/><rect x="554.2" y="563.7" width="5.3" height="7.5" fill="#f6f6f6"/><rect x="560.8" y="563.7" width="5.3" height="7.5" fill="#f6f6f6"/><rect x="567.4" y="563.7" width="5.3" height="7.5" fill="#f6f6f6"/><rect x="574.0" y="563.7" width="5.3" height="7.5" fill="#f6f6f6"/><rect x="580.6" y="563.7" width="5.3" height="7.5" fill="#f6f6f6"/><rect x="587.2" y="563.7" width="5.3" height="7.5" fill="#f6f6f6"/><rect x="593.8" y="563.7" width="5.3" height="7.5" fill="#f6f6f6"/><rect x="600.4" y="563.7" width="5.3" height="7.5" fill="#f6f6f6"/><rect x="607.0" y="563.7" width="5.3" height="7.5" fill="#f6f6f6"/><rect x="613.6" y="563.7" width="5.3" height="7.5" fill="#f6f6f6"/><rect x="546.5" y="575.3" width="5.4" height="8.7" fill="#f6f6f6"/><rect x="615.2" y="575.3" width="4.9" height="8.7" fill="#f6f6f6"/><rect x="546.5" y="585.6" width="5.4" height="8.7" fill="#f6f6f6"/><rect x="615.2" y="585.6" width="4.9" height="8.7" fill="#f6f6f6"/><rect x="546.5" y="595.8" width="5.4" height="8.7" fill="#f6f6f6"/><rect x="615.2" y="595.8" width="4.9" height="8.7" fill="#f6f6f6"/><rect x="552.4" y="573.7" width="62.3" height="32.8" fill="#e9e9ea"/><rect x="553.4" y="574.7" width="60.3" height="30.8" fill="#1e1b1b"/><g transform="translate(553.40 574.70) scale(0.5854 0.5704)"><g fill="#d42a20" stroke="#d42a20" stroke-width="0.4" font-size="4.6" font-weight="bold" font-family="Liberation Sans, sans-serif">
<text x="51.5" y="6.8" text-anchor="middle" font-size="5.4">负氧离子监测系统</text>
<text x="22" y="12">2024年3月22日</text><text x="66" y="12">12:20:0</text>
<text x="2.8" y="16.7">PM2.5:</text><text x="19.4" y="16.7">30 μg/m³</text><text x="47.2" y="16.7">PM10:</text><text x="61.1" y="16.7">30 μg/m³</text>
<text x="2.8" y="22.2">TSP:</text><text x="19.4" y="22.2">80 μg/m³</text><text x="47.2" y="22.2">温度:</text><text x="61.1" y="22.2">17℃</text>
<text x="2.8" y="28.2">湿度:</text><text x="19.4" y="28.2">80% RH</text><text x="47.2" y="28.2">风向:</text><text x="61.1" y="28.2">西北</text>
<text x="2.8" y="33.7">风速:</text><text x="19.4" y="33.7">5.3m/s</text><text x="47.2" y="33.7">负氧离子:</text><text x="70" y="33.7">8000 个</text>
<text x="2.8" y="39.8">噪声:</text><text x="19.4" y="39.8">25 dB</text><text x="47.2" y="39.8">大气压:</text><text x="64" y="39.8">101kPa</text>
<text x="2.8" y="46.3">氧气:</text><text x="19.4" y="46.3">20.1%VOL</text>
</g></g><path d="M531.0 540.7H634.8L644.0 553.8H522.5Z" fill="#767171"/><path d="M531.0 540.7L522.5 553.8 M535.5 540.7L527.8 553.8 M540.0 540.7L533.1 553.8 M544.5 540.7L538.3 553.8 M549.0 540.7L543.6 553.8 M553.6 540.7L548.9 553.8 M558.1 540.7L554.2 553.8 M562.6 540.7L559.5 553.8 M567.1 540.7L564.8 553.8 M571.6 540.7L570.0 553.8 M576.1 540.7L575.3 553.8 M580.6 540.7L580.6 553.8 M585.1 540.7L585.9 553.8 M589.6 540.7L591.2 553.8 M594.2 540.7L596.5 553.8 M598.7 540.7L601.7 553.8 M603.2 540.7L607.0 553.8 M607.7 540.7L612.3 553.8 M612.2 540.7L617.6 553.8 M616.7 540.7L622.9 553.8 M621.2 540.7L628.2 553.8 M625.7 540.7L633.4 553.8 M630.2 540.7L638.7 553.8 M634.8 540.7L644.0 553.8" stroke="#363131" stroke-width="1.5"/><path d="M531.0 541.1H634.8" stroke="#2a2626" stroke-width="1.2"/><path d="M522.5 553.2H644.0" stroke="#262222" stroke-width="1.4"/>
<rect x="668.6" y="556.0" width="4.2" height="82.0" fill="#3a3434"/><rect x="748.3" y="556.0" width="4.4" height="82.0" fill="#3a3434"/><rect x="672.8" y="564.5" width="75.5" height="47.8" fill="#3a3434"/><path d="M661.0 555.0H761.4L758.4 564.5H664.0Z" fill="#2e2929"/><rect x="676.0" y="566.2" width="5.2" height="7.3" fill="#f6f6f6"/><rect x="682.5" y="566.2" width="5.2" height="7.3" fill="#f6f6f6"/><rect x="689.0" y="566.2" width="5.2" height="7.3" fill="#f6f6f6"/><rect x="695.5" y="566.2" width="5.2" height="7.3" fill="#f6f6f6"/><rect x="702.0" y="566.2" width="5.2" height="7.3" fill="#f6f6f6"/><rect x="708.5" y="566.2" width="5.2" height="7.3" fill="#f6f6f6"/><rect x="715.1" y="566.2" width="5.2" height="7.3" fill="#f6f6f6"/><rect x="721.6" y="566.2" width="5.2" height="7.3" fill="#f6f6f6"/><rect x="728.1" y="566.2" width="5.2" height="7.3" fill="#f6f6f6"/><rect x="734.6" y="566.2" width="5.2" height="7.3" fill="#f6f6f6"/><rect x="741.1" y="566.2" width="5.2" height="7.3" fill="#f6f6f6"/><rect x="673.1" y="576.9" width="4.9" height="9.3" fill="#f6f6f6"/><rect x="744.5" y="576.9" width="3.5" height="9.3" fill="#f6f6f6"/><rect x="673.1" y="587.8" width="4.9" height="9.3" fill="#f6f6f6"/><rect x="744.5" y="587.8" width="3.5" height="9.3" fill="#f6f6f6"/><rect x="673.1" y="598.7" width="4.9" height="9.3" fill="#f6f6f6"/><rect x="744.5" y="598.7" width="3.5" height="9.3" fill="#f6f6f6"/><rect x="678.5" y="575.3" width="65.5" height="34.7" fill="#e9e9ea"/><rect x="679.5" y="576.3" width="63.5" height="32.7" fill="#142a42"/><g transform="translate(679.50 576.30) scale(0.8819 0.8767)"><rect x="17.5" y="0" width="37.5" height="30.3" fill="#0b182a"/>
<path d="M44 1.7L55 1.7L55 19L50 24L44 28L39 30.3L37 23L43 17L40.5 10L38 6Z" fill="#2b5576"/>
<path d="M46 4L54 3.5L54 12L49 14Z" fill="#3a6b8e"/>
<g fill="#e8f0ff"><circle cx="28" cy="12" r="0.7"/><circle cx="32" cy="22" r="0.9"/><circle cx="24" cy="19" r="0.4"/><circle cx="35" cy="8" r="0.4"/><circle cx="22" cy="6" r="0.4"/><circle cx="30" cy="27" r="0.4"/><circle cx="40" cy="14" r="0.4"/></g>
<rect x="0.5" y="19" width="16.5" height="17.5" fill="#1c3854"/>
<path d="M1.5 22.5h14.5M1.5 26h14.5M1.5 29.5h14.5M1.5 33h14.5" stroke="#2f5272" stroke-width="0.6"/>
<circle cx="4.3" cy="14.8" r="2.3" fill="none" stroke="#dfe6ee" stroke-width="0.8"/><circle cx="9.3" cy="14.8" r="2.3" fill="none" stroke="#e0b070" stroke-width="0.8"/><circle cx="14.2" cy="14.8" r="2.3" fill="none" stroke="#dfe6ee" stroke-width="0.8"/>
<rect x="55.5" y="1" width="16" height="35.5" fill="#1a3550"/>
<path d="M56.5 7h14M56.5 11h14M56.5 15h14M56.5 19h14M56.5 23h14M56.5 27h14M56.5 31h14" stroke="#2f5272" stroke-width="0.6"/>
<path d="M58 4h6" stroke="#8fb8d8" stroke-width="1"/>
<rect x="18.5" y="30.8" width="35" height="6" fill="#18304b"/>
<path d="M20 35.5h33" stroke="#3d6a8c" stroke-width="0.6"/>
<path d="M2 4.5h2M6 4.5h2M10 4.5h2M14 4.5h2" stroke="#3ec06a" stroke-width="1.4"/>
</g><path d="M658.5 542.6H761.4L770.7 556.0H650.0Z" fill="#767171"/><path d="M658.5 542.6L650.0 556.0 M663.0 542.6L655.2 556.0 M667.4 542.6L660.5 556.0 M671.9 542.6L665.7 556.0 M676.4 542.6L671.0 556.0 M680.9 542.6L676.2 556.0 M685.3 542.6L681.5 556.0 M689.8 542.6L686.7 556.0 M694.3 542.6L692.0 556.0 M698.8 542.6L697.2 556.0 M703.2 542.6L702.5 556.0 M707.7 542.6L707.7 556.0 M712.2 542.6L713.0 556.0 M716.7 542.6L718.2 556.0 M721.1 542.6L723.5 556.0 M725.6 542.6L728.7 556.0 M730.1 542.6L734.0 556.0 M734.6 542.6L739.2 556.0 M739.0 542.6L744.5 556.0 M743.5 542.6L749.7 556.0 M748.0 542.6L755.0 556.0 M752.5 542.6L760.2 556.0 M756.9 542.6L765.5 556.0 M761.4 542.6L770.7 556.0" stroke="#363131" stroke-width="1.5"/><path d="M658.5 543.0H761.4" stroke="#2a2626" stroke-width="1.2"/><path d="M650.0 555.4H770.7" stroke="#262222" stroke-width="1.4"/>
</g>
<!-- END GRAPHICS -->
</svg>

<!-- TEXT -->
<div class="t" style="left:291px;top:67.6px;font-size:12.5px;font-weight:bold;color:#111;">RJ45网口</div>
<div class="t" style="left:309px;top:160px;font-size:12px;font-weight:bold;color:#111;">4G</div>
<div class="t" style="left:370px;top:128.5px;font-size:11.3px;font-weight:bold;color:#e8431f;letter-spacing:0.8px;">云服务器</div>

<div class="lb" style="left:539px;top:77.6px;width:119.3px;height:15.6px;padding-top:0.6px;box-sizing:border-box;line-height:16px;font-size:10.6px;">电脑端/APP端在线查看</div>
<div class="lb" style="left:549px;top:171.6px;width:116.2px;height:16.2px;padding-top:0.9px;line-height:16.2px;font-size:11px;letter-spacing:0.4px;text-indent:0.4px;">支持远程报警</div>
<div class="lb" style="left:547.3px;top:248px;width:126.4px;height:16.3px;padding-top:1.5px;line-height:16.3px;font-size:11.4px;letter-spacing:0.2px;padding-right:3.5px;box-sizing:border-box;">PLC、组态、工控主机</div>
<div class="lb" style="left:548px;top:330.4px;width:141.6px;height:16px;padding-top:1.2px;box-sizing:border-box;line-height:16px;font-size:11px;letter-spacing:0.45px;text-indent:0.45px;">视频字符叠加、联动抓拍</div>

<div class="lb" style="left:322px;top:505px;width:86.8px;height:16px;line-height:16px;font-size:11.4px;letter-spacing:0.3px;padding-right:1px;">LED显示屏一</div>
<div class="lb" style="left:436.3px;top:505px;width:86.5px;height:16px;line-height:16px;font-size:11.4px;letter-spacing:0.3px;padding-right:1px;">LED显示屏二</div>
<div class="lb" style="left:543.1px;top:505px;width:86.3px;height:16px;line-height:16px;font-size:11.4px;letter-spacing:0.3px;padding-right:1px;">LED显示屏三</div>
<div class="lb" style="left:651.5px;top:505px;width:86.6px;height:16px;line-height:16px;font-size:11.4px;letter-spacing:0.3px;padding-right:1px;">LED显示屏四</div>
<div class="lb" style="left:362.8px;top:641.5px;width:86.2px;height:16.4px;line-height:16.4px;font-size:11.4px;letter-spacing:0.3px;padding-right:1px;">LED显示屏五</div>
<div class="lb" style="left:604.4px;top:644px;width:86.9px;height:15.8px;line-height:15.8px;font-size:11.4px;letter-spacing:0.3px;padding-right:1px;">LED显示屏六</div>

<!-- lists -->
<div style="position:absolute;left:683px;top:16.6px;font-size:9px;letter-spacing:0.75px;line-height:14.5px;color:#000;font-weight:500;-webkit-text-stroke:0.1px #000;">
<div class="li" style="position:relative">实时数据查看<i></i></div>
<div class="li" style="position:relative">历史数据查询<i></i></div>
<div class="li" style="position:relative">曲线报表查看<i></i></div>
<div class="li" style="position:relative">超限多重报警<i></i></div>
<div class="li" style="position:relative">远程在线预警<i></i></div>
<div class="li" style="position:relative">在线视频监测<i></i></div>
</div>
<div style="position:absolute;left:683.8px;top:121px;font-size:8px;letter-spacing:0.6px;line-height:10.18px;color:#000;font-weight:500;-webkit-text-stroke:0.2px #000;">
<div class="li" style="position:relative">微信报警<i></i></div>
<div class="li" style="position:relative">短信报警<i></i></div>
<div class="li" style="position:relative">邮件报警<i></i></div>
<div class="li" style="position:relative">语音振铃报警<i></i></div>
<div class="li" style="position:relative">广播喊话报警<i></i></div>
<div class="li" style="position:relative">远程触发声光报警<i></i></div>
</div>

<div class="t" style="left:678px;top:215.5px;font-size:9px;letter-spacing:0.5px;font-weight:500;-webkit-text-stroke:0.05px #1a1a1a;line-height:11.7px;color:#1a1a1a;white-space:normal;width:95px;">可提供RS485通讯接<br>口，方便用户通过<br>485组网形式实时获<br>取监测数据。</div>

<div class="t" style="left:383px;top:290.7px;font-size:9px;letter-spacing:1.2px;text-indent:1.2px;line-height:9.4px;color:#000;font-weight:500;-webkit-text-stroke:0.25px #000;text-align:center;width:60px;">二主站485<br>通信交换机</div>

<div class="t" style="left:285px;top:257px;font-size:20px;font-weight:bold;color:#1f8ef0;transform:scaleX(0.84);transform-origin:0 0;letter-spacing:-0.3px;-webkit-text-stroke:0.9px #1f8ef0;">RS485</div>

<div class="t" style="left:308.5px;top:664.7px;font-size:12px;letter-spacing:1.05px;line-height:16.45px;color:#111;-webkit-text-stroke:0.12px #111;">LED大屏可实时获取负氧离子监测站监测数据进行现场显示，在<b style="color:#e8141c;-webkit-text-stroke:0;">提升游客体验、</b><br><b style="color:#e8141c;-webkit-text-stroke:0;">增强服务水平、商业价值和保障游客安全</b>等方面发挥着重要作用，是现代景区<br>不可或缺的设施之一</div>

</body></html>
